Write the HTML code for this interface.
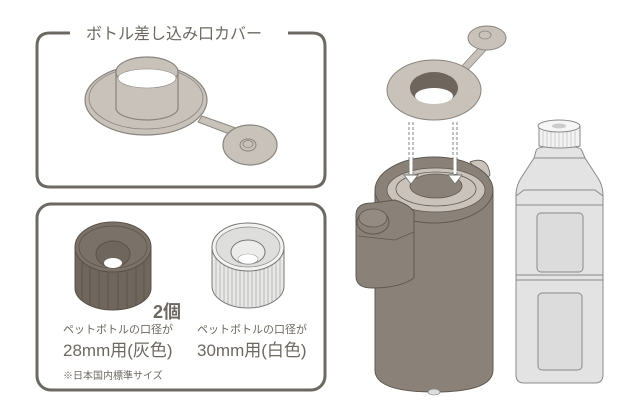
<!DOCTYPE html>
<html><head><meta charset="utf-8"><style>
html,body{margin:0;padding:0;background:#fff;width:640px;height:413px;overflow:hidden}
svg{display:block}
text{font-family:"Liberation Sans","Noto Sans CJK JP",sans-serif;fill:#6e6862}
</style></head><body>
<svg width="640" height="413" viewBox="0 0 640 413" xmlns="http://www.w3.org/2000/svg">
<!-- top panel -->
<path d="M70 33 H50 Q37 33 37 46 V174 Q37 187 50 187 H312 Q325 187 325 174 V46 Q325 33 312 33 H288" fill="none" stroke="#6e6862" stroke-width="3"/>
<text x="174" y="39" font-size="16" text-anchor="middle" fill="#7a746e">ボトル差し込み口カバー</text>
<!-- cover -->
<path d="M198 122 L232 135 L236 128 L202 116 Z" fill="#c8c2bb" stroke="#8a847e" stroke-width="1"/>
<ellipse cx="146" cy="100" rx="61" ry="35" fill="#c8c2bb" stroke="#8a847e" stroke-width="1.2"/>
<ellipse cx="146" cy="98" rx="57" ry="31" fill="none" stroke="#8a847e" stroke-width="0.8"/>
<path d="M116 72 V108 A31 12 0 0 0 178 108 V72" fill="#c8c2bb" stroke="#8a847e" stroke-width="1.2"/>
<ellipse cx="147" cy="72" rx="31" ry="15" fill="#c8c2bb" stroke="#8a847e" stroke-width="1.2"/>
<path d="M118 78 A29 10 0 0 0 176 78 A29 9 0 0 0 118 78 Z" fill="#fff" stroke="#8a847e" stroke-width="0.6"/>
<ellipse cx="250" cy="145" rx="27" ry="20" fill="#c8c2bb" stroke="#8a847e" stroke-width="1.2"/>
<ellipse cx="248" cy="145" rx="8" ry="6" fill="#c8c2bb" stroke="#8a847e" stroke-width="1"/>
<ellipse cx="248" cy="144" rx="5" ry="3.5" fill="none" stroke="#8a847e" stroke-width="0.8"/>
<!-- bottom panel -->
<rect x="37" y="204" width="288" height="186" rx="14" fill="none" stroke="#6e6862" stroke-width="3"/>
<!-- dark cap -->
<g>
<path d="M75 247 V288 A38 22 0 0 0 151 288 V247 Z" fill="#6f665d" stroke="#5a524a" stroke-width="1"/>
<g stroke="#5a524a" stroke-width="0.8">
<line x1="82" y1="262" x2="82" y2="300"/><line x1="90" y1="266" x2="90" y2="305"/><line x1="99" y1="268" x2="99" y2="308"/><line x1="108" y1="270" x2="108" y2="310"/><line x1="118" y1="270" x2="118" y2="310"/><line x1="127" y1="268" x2="127" y2="308"/><line x1="136" y1="266" x2="136" y2="305"/><line x1="144" y1="262" x2="144" y2="300"/>
</g>
<ellipse cx="113" cy="247" rx="38" ry="25" fill="#7a7168" stroke="#5a524a" stroke-width="1"/>
<ellipse cx="113" cy="247" rx="34" ry="21" fill="none" stroke="#5a524a" stroke-width="0.7"/>
<ellipse cx="113" cy="254" rx="17" ry="13" fill="#6f665d" stroke="#5a524a" stroke-width="1"/>
<ellipse cx="113" cy="263" rx="9" ry="5" fill="#fff"/>
</g>
<!-- white cap -->
<g>
<path d="M212 247 V286 A36 22 0 0 0 284 286 V247 Z" fill="#e8e8e6" stroke="#777" stroke-width="1"/>
<g stroke="#999" stroke-width="0.6">
<line x1="216" y1="258" x2="216" y2="296"/><line x1="220" y1="262" x2="220" y2="300"/><line x1="224" y1="264" x2="224" y2="302"/><line x1="228" y1="266" x2="228" y2="304"/><line x1="232" y1="267" x2="232" y2="305"/><line x1="236" y1="268" x2="236" y2="306"/><line x1="240" y1="269" x2="240" y2="307"/><line x1="244" y1="269" x2="244" y2="307"/><line x1="248" y1="269" x2="248" y2="307"/><line x1="252" y1="269" x2="252" y2="307"/><line x1="256" y1="269" x2="256" y2="307"/><line x1="260" y1="268" x2="260" y2="306"/><line x1="264" y1="267" x2="264" y2="305"/><line x1="268" y1="266" x2="268" y2="304"/><line x1="272" y1="264" x2="272" y2="302"/><line x1="276" y1="262" x2="276" y2="300"/><line x1="280" y1="258" x2="280" y2="296"/>
</g>
<ellipse cx="248" cy="247" rx="36" ry="24" fill="#f2f2f0" stroke="#777" stroke-width="1"/>
<ellipse cx="248" cy="247" rx="32" ry="20" fill="#dededc" stroke="#888" stroke-width="0.7"/>
<ellipse cx="248" cy="252" rx="17" ry="12" fill="#ececea" stroke="#777" stroke-width="1"/>
<ellipse cx="248" cy="259" rx="10" ry="5" fill="#fff" stroke="#999" stroke-width="0.6"/>
</g>
<text x="153" y="318" font-size="18" font-weight="bold">2個</text>
<text x="63" y="333" font-size="11">ペットボトルの口径が</text>
<text x="63" y="356" font-size="17">28mm用(灰色)</text>
<text x="197" y="333" font-size="11">ペットボトルの口径が</text>
<text x="197" y="356" font-size="17">30mm用(白色)</text>
<text x="63" y="379" font-size="10">※日本国内標準サイズ</text>
<!-- right: cover ring -->
<path d="M460 68 L482 44 L488 48 L466 72 Z" fill="#c8c2bb" stroke="#8a847e" stroke-width="0.8"/>
<ellipse cx="487" cy="38" rx="19" ry="12" fill="#c8c2bb" stroke="#8a847e" stroke-width="1"/>
<ellipse cx="485" cy="35" rx="6" ry="4" fill="#c8c2bb" stroke="#8a847e" stroke-width="0.8"/>
<ellipse cx="434" cy="90" rx="47" ry="30" fill="#c8c2bb" stroke="#8a847e" stroke-width="1"/>
<ellipse cx="434" cy="88" rx="24" ry="16" fill="#6e655c"/>
<ellipse cx="434" cy="96" rx="19" ry="8" fill="#fff"/>
<!-- pot -->
<path d="M375 190 V370 Q375 392 434 392 Q493 392 493 370 V190 Z" fill="#8a8279" stroke="#5e5850" stroke-width="1"/>
<path d="M470 162 Q488 155 490 175 L486 180 Z" fill="#c9c3bb" stroke="#5e5850" stroke-width="0.8"/>
<ellipse cx="434" cy="190" rx="59" ry="33" fill="#8a8279" stroke="#5e5850" stroke-width="1"/>
<ellipse cx="436" cy="190" rx="49" ry="22" fill="#c9c3bb" stroke="#5e5850" stroke-width="0.8"/>
<ellipse cx="436" cy="189" rx="40" ry="17" fill="none" stroke="#5e5850" stroke-width="0.8"/>
<ellipse cx="436" cy="186" rx="26" ry="12" fill="#8a8279" stroke="#5e5850" stroke-width="0.8"/>
<path d="M356 215 Q356 203 372 203 L395 200 Q410 205 414 212 V278 Q400 288 372 288 Q356 288 356 276 Z" fill="#8a8279" stroke="#5e5850" stroke-width="1"/>
<path d="M358 236 L395 240 L414 232" fill="none" stroke="#5e5850" stroke-width="0.8"/>
<ellipse cx="373" cy="222" rx="16" ry="12" fill="#8a8279" stroke="#5e5850" stroke-width="1"/>
<ellipse cx="373" cy="218" rx="14" ry="9" fill="#948c83" stroke="#5e5850" stroke-width="0.8"/>
<ellipse cx="434" cy="392" rx="6" ry="3" fill="#ddd" stroke="#777" stroke-width="0.6"/>
<!-- dashed arrows -->
<g stroke="#fff" stroke-width="3"><line x1="411" y1="122" x2="411" y2="174"/><line x1="455" y1="122" x2="455" y2="174"/></g>
<g stroke="#777" stroke-width="0.9" stroke-dasharray="3 2" fill="none"><line x1="409" y1="122" x2="409" y2="174"/><line x1="413" y1="122" x2="413" y2="174"/><line x1="453" y1="122" x2="453" y2="174"/><line x1="457" y1="122" x2="457" y2="174"/></g>
<path d="M404 175 H418 L411 184 Z" fill="#fff" stroke="#777" stroke-width="0.9"/>
<path d="M448 175 H462 L455 184 Z" fill="#fff" stroke="#777" stroke-width="0.9"/>
<!-- bottle -->
<g stroke="#8a8a8a" stroke-width="1" fill="#e4e4e4">
<path d="M536 151 Q536 146 559 146 Q582 146 582 151 L585 158 L598 178 Q603 186 603 195 V375 Q603 383 595 383 H524 Q516 383 516 375 V195 Q516 186 521 178 L534 158 Z" fill="#e3e3e3"/>
<path d="M534 158 H585" fill="none"/>
<path d="M516 196 L524 190 H595 L603 196" fill="none"/>
<path d="M516 205 H603" fill="none"/>
<path d="M516 275 H603" fill="none"/><path d="M516 280 H603" fill="none"/>
<rect x="537" y="213" width="46" height="59" rx="4" fill="#dcdcdc"/>
<rect x="538" y="293" width="44" height="77" rx="4" fill="#dcdcdc"/>
<path d="M539 126 V146 Q559 150 580 146 V126 Z" fill="#f2f2f2"/>
<ellipse cx="559" cy="126" rx="21" ry="6" fill="#f6f6f6"/>
<ellipse cx="559" cy="126" rx="7" ry="2.5" fill="#ccc" stroke="none"/>
</g>
<g stroke="#aaa" stroke-width="0.5"><line x1="543" y1="131" x2="543" y2="146"/><line x1="547" y1="132" x2="547" y2="147"/><line x1="551" y1="132" x2="551" y2="147"/><line x1="555" y1="132" x2="555" y2="147"/><line x1="559" y1="132" x2="559" y2="148"/><line x1="563" y1="132" x2="563" y2="147"/><line x1="567" y1="132" x2="567" y2="147"/><line x1="571" y1="132" x2="571" y2="147"/><line x1="575" y1="131" x2="575" y2="146"/></g>
</svg>
</body></html>
